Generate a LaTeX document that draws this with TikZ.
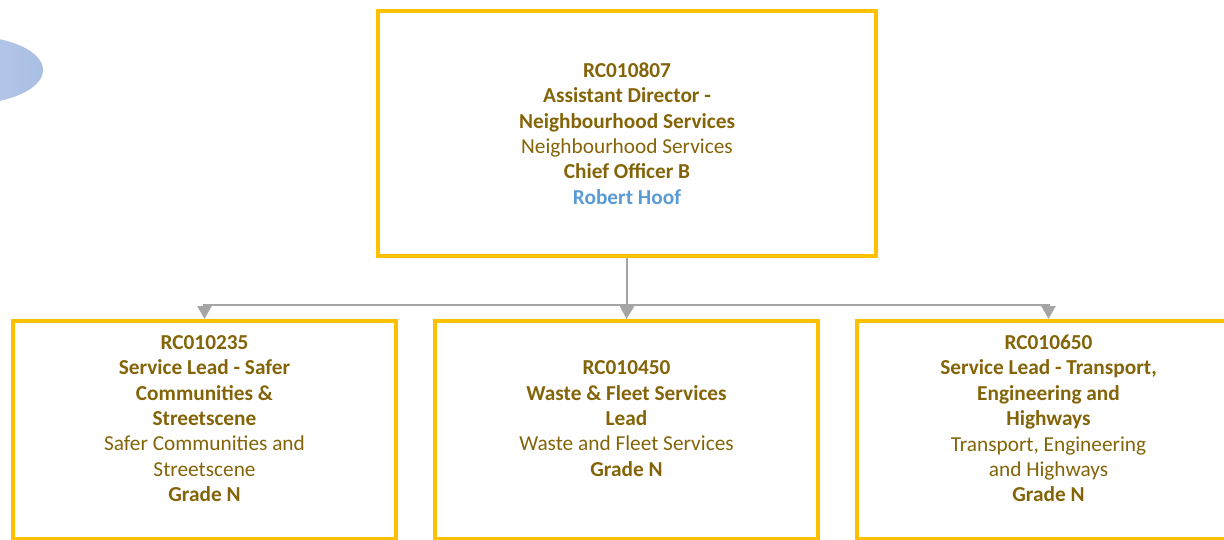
\documentclass[tikz,border=0pt]{standalone}
\usepackage{fontspec}
\setmainfont{Carlito}
\usetikzlibrary{arrows.meta}
\definecolor{gold}{HTML}{FFC000}
\definecolor{postbrown}{HTML}{846408}
\definecolor{nameblue}{HTML}{5B9BD5}
\definecolor{linegray}{HTML}{A5A5A5}
\definecolor{blobleft}{HTML}{CCD8F0}
\definecolor{blobright}{HTML}{A9BEE4}

\begin{document}
\begin{tikzpicture}[x=1pt,y=-1pt,
    post/.style={draw=gold,line width=4pt,fill=white,minimum width=383pt,minimum height=218pt,inner sep=0pt},
    txt/.style={align=center,text=postbrown,font=\fontsize{21.3}{25.4}\selectfont,inner sep=0pt},
    conn/.style={draw=linegray,line width=2.6pt},
    tip/.style={-{Triangle[width=14pt,length=13pt]}}]
        \useasboundingbox (0,0) rectangle (1224,540);
        \clip (0,0) rectangle (1224,540);
        \shade[left color=blobleft,right color=blobright] (-32,70) ellipse [x radius=75pt,y radius=34pt];
        % top post
        \node[post,minimum width=498pt,minimum height=245pt] (ad) at (627,133.5) {};
        \node[txt] (adtext) at (ad.center) {\textbf{RC010807}\\\textbf{Assistant Director -}\\\textbf{Neighbourhood Services}\\Neighbourhood Services\\\textbf{Chief Officer B}\\\textcolor{nameblue}{\textbf{Robert Hoof}}};
        % three leads
        \node[post] (safer) at (204.5,430) {};
        \node[post] (waste) at (626.5,430) {};
        \node[post] (trans) at (1048.5,430) {};
        \node[txt] (safertext) at ([yshift=11.5pt]safer.center) {\textbf{RC010235}\\\textbf{Service Lead - Safer}\\\textbf{Communities \&}\\\textbf{Streetscene}\\Safer Communities and\\Streetscene\\\textbf{Grade N}};
        \node[txt] (wastetext) at ([yshift=11.5pt]waste.center) {\textbf{RC010450}\\\textbf{Waste \& Fleet Services}\\\textbf{Lead}\\Waste and Fleet Services\\\textbf{Grade N}};
        \node[txt] (transtext) at ([yshift=11.5pt]trans.center) {\textbf{RC010650}\\\textbf{Service Lead - Transport,}\\\textbf{Engineering and}\\\textbf{Highways}\\Transport, Engineering\\and Highways\\\textbf{Grade N}};
        \coordinate (hub) at (627,305);
        \draw[conn] (ad.south) -- (hub);
        \draw[conn,tip] (hub) -| (safer.north);
        \draw[conn,tip] (hub) -- (waste.north);
        \draw[conn,tip] (hub) -| (trans.north);
\end{tikzpicture}
\end{document}
